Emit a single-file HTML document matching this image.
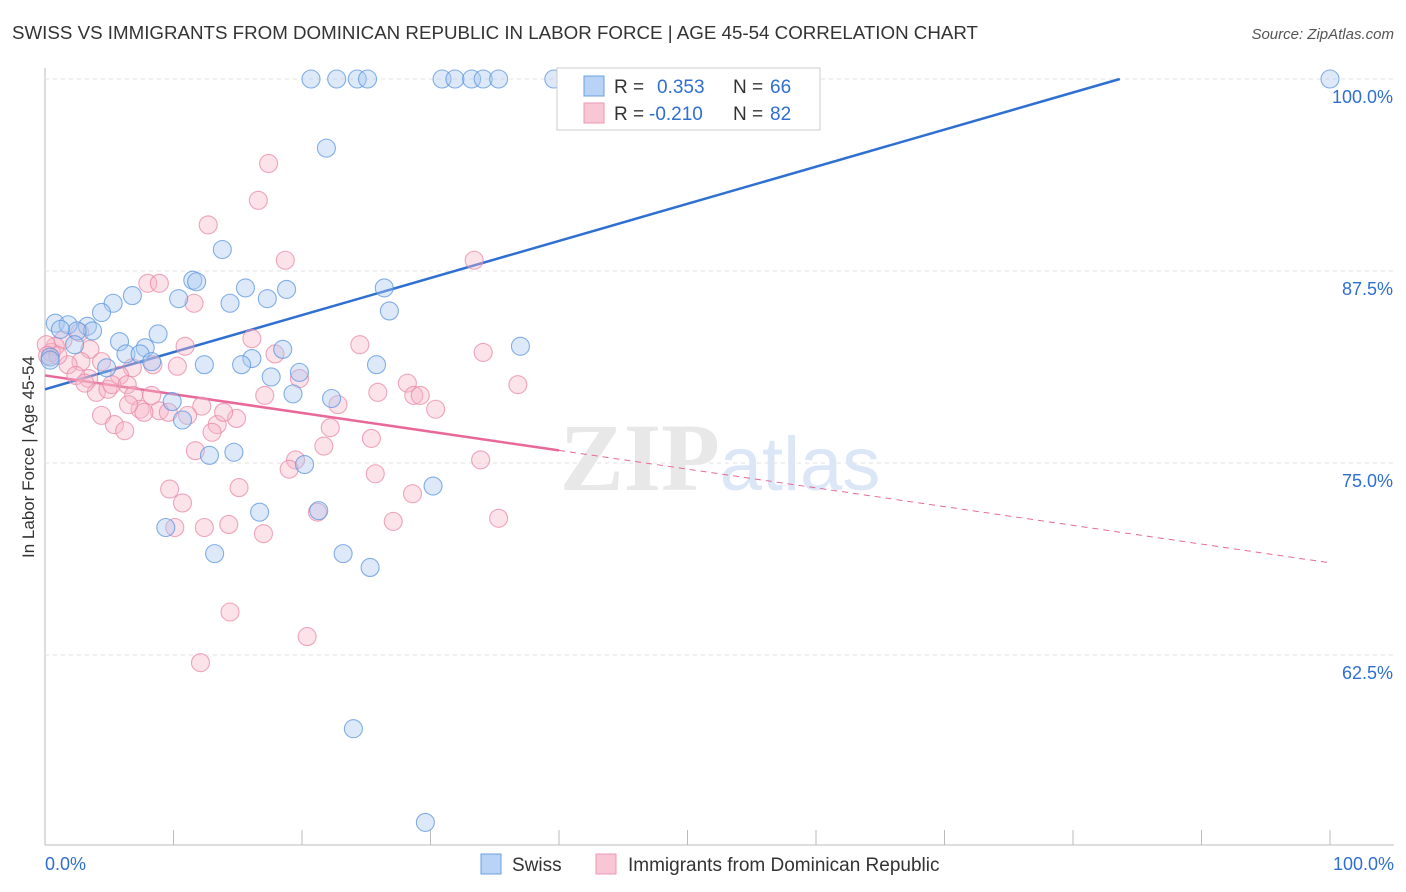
<!DOCTYPE html>
<html><head><meta charset="utf-8"><style>
body{margin:0;background:#fff;font-family:"Liberation Sans",sans-serif}
svg{display:block}
</style></head><body>
<svg id="chart" width="1406" height="892" viewBox="0 0 1406 892">
<text x="12" y="39" font-size="18" fill="#333" textLength="966" lengthAdjust="spacingAndGlyphs">SWISS VS IMMIGRANTS FROM DOMINICAN REPUBLIC IN LABOR FORCE | AGE 45-54 CORRELATION CHART</text>
<text x="1394" y="39" font-size="15" fill="#555" text-anchor="end" font-style="italic">Source: ZipAtlas.com</text>
<g id="grid"></g>
<text x="720" y="490" font-size="96" text-anchor="middle" fill="#e8e8e8" font-family="Liberation Serif,serif" font-weight="bold">ZIP<tspan fill="#dbe7f6" font-family="Liberation Sans,sans-serif" font-weight="normal" font-size="76">atlas</tspan></text>
<text transform="translate(34,457) rotate(-90)" font-size="17" fill="#333" text-anchor="middle">In Labor Force | Age 45-54</text>
<g id="lines"></g>
<g id="points"></g>
<g>
<rect x="557" y="68" width="263" height="62" fill="#fff" stroke="#ccc"/>
<rect x="584" y="76" width="20" height="20" fill="#b8d3f5" stroke="#6a9fe0"/>
<text x="614" y="93" font-size="19" fill="#333">R =</text>
<text x="657" y="93" font-size="19" fill="#2e6fd1">0.353</text>
<text x="733" y="93" font-size="19" fill="#333">N =</text>
<text x="770" y="93" font-size="19" fill="#2e6fd1">66</text>
<rect x="584" y="103" width="20" height="20" fill="#f9c6d5" stroke="#e99ab2"/>
<text x="614" y="120" font-size="19" fill="#333">R =</text>
<text x="649" y="120" font-size="19" fill="#2e6fd1">-0.210</text>
<text x="733" y="120" font-size="19" fill="#333">N =</text>
<text x="770" y="120" font-size="19" fill="#2e6fd1">82</text>
</g>
<g>
<rect x="481" y="854" width="20" height="20" fill="#b8d3f5" stroke="#6a9fe0"/>
<text x="512" y="871" font-size="19" fill="#333">Swiss</text>
<rect x="596" y="854" width="20" height="20" fill="#f9c6d5" stroke="#e99ab2"/>
<text x="628" y="871" font-size="19" fill="#333">Immigrants from Dominican Republic</text>
</g>
</svg>
<script>
const yTicks=[100,87.5,75,62.5];
const yTickLabels=["100.0%","87.5%","75.0%","62.5%"];
const xTickVals=[0,10,20,30,40,50,60,70,80,90,100];
const xTickLabels=["0.0%","100.0%"];
const swissX=[20.7,22.7,24.3,25.1,30.9,31.9,33.2,34.1,35.3,39.6,41.5,100,21.9,13.8,11.5,11.8,15.6,18.8,26.4,6.8,10.4,5.3,14.4,17.3,4.4,26.8,0.8,1.8,3.3,3.7,2.5,8.8,5.8,7.8,2.3,6.3,7.4,37.0,18.5,16.1,0.4,8.3,12.4,15.3,25.8,4.8,19.8,17.6,19.3,22.3,9.9,10.7,12.8,14.7,20.2,30.2,16.7,21.3,9.4,13.2,23.2,25.3,24.0,29.6,0.4,1.2];
const swissY=[100,100,100,100,100,100,100,100,100,100,100,100,95.5,88.9,86.9,86.8,86.4,86.3,86.4,85.9,85.7,85.4,85.4,85.7,84.8,84.9,84.1,84.0,83.9,83.6,83.6,83.4,82.9,82.5,82.7,82.1,82.1,82.6,82.4,81.8,81.9,81.6,81.4,81.4,81.4,81.2,80.9,80.6,79.5,79.2,79.0,77.8,75.5,75.7,74.9,73.5,71.8,71.9,70.8,69.1,69.1,68.2,57.7,51.6,81.7,83.7];
const domX=[17.4,16.6,12.7,18.7,33.4,8.0,8.9,11.6,16.1,24.5,1.4,2.7,0.8,0.5,3.5,10.9,4.4,2.8,1.8,6.8,8.4,10.3,17.9,34.1,5.8,3.4,4.0,4.9,5.2,6.4,6.9,28.2,28.7,29.2,25.9,36.8,22.8,30.4,4.4,7.4,8.9,9.6,7.7,12.2,13.4,14.9,5.4,6.2,13.0,11.1,11.7,21.7,25.4,19.5,19.0,33.9,25.7,9.7,15.1,28.6,10.7,21.2,10.1,12.4,14.3,27.1,35.3,17.0,14.4,20.4,12.1,0.1,0.2,1.0,2.4,3.1,8.3,17.1,19.8,13.9,6.5,22.2];
const domY=[94.5,92.1,90.5,88.2,88.2,86.7,86.7,85.4,83.1,82.7,83.0,83.5,82.6,82.2,82.4,82.6,81.6,81.6,81.4,81.2,81.4,81.3,82.1,82.2,80.7,80.5,79.6,79.8,80.1,80.1,79.4,80.2,79.4,79.4,79.6,80.1,78.8,78.5,78.1,78.5,78.4,78.3,78.3,78.7,77.5,77.9,77.5,77.1,77.0,78.1,75.8,76.1,76.6,75.2,74.6,75.2,74.3,73.3,73.4,73.0,72.4,71.8,70.8,70.8,71.0,71.2,71.4,70.4,65.3,63.7,62.0,82.7,82.0,82.0,80.7,80.2,79.4,79.4,80.5,78.3,78.8,77.3];
const swissTrend=[79.8,0.2415];
const domTrend=[80.7,-0.122];
const NS="http://www.w3.org/2000/svg";
const sx=v=>45+v*12.85, sy=v=>79+(100-v)*15.36;
function mk(t,a,p){const e=document.createElementNS(NS,t);for(const k in a)e.setAttribute(k,a[k]);p.appendChild(e);return e;}
const grid=document.getElementById('grid');
const ax=mk('line',{x1:45,y1:68,x2:45,y2:845,stroke:'#bbb'},grid);


const bx=mk('line',{x1:45,y1:845,x2:1394,y2:845,stroke:'#bbb'},grid);


yTicks.forEach((v,i)=>{
 const g=mk('line',{x1:45,y1:sy(v),x2:1394,y2:sy(v),stroke:'#e2e2e2','stroke-dasharray':'4,4'},grid);
 
 
 const t=mk('text',{x:1393,y:sy(v)+24,'font-size':18,fill:'#2e6fd1','text-anchor':'end'},grid);
 t.textContent=yTickLabels[i];
 
 
});
xTickVals.forEach(v=>{
 const l=mk('line',{x1:sx(v),y1:830,x2:sx(v),y2:845,stroke:'#bbb'},grid);
 
 
});
[[0,'start',45],[100,'end',1394]].forEach((d,i)=>{
 const t=mk('text',{x:d[2],y:870,'font-size':18,fill:'#2e6fd1','text-anchor':d[1]},grid);
 t.textContent=xTickLabels[i];
 
 
});
const pts=document.getElementById('points');
function dots(X,Y,fill,stroke,name){X.forEach((x,i)=>{
 const c=mk('circle',{cx:sx(x),cy:sy(Y[i]),r:9,fill:fill,'fill-opacity':0.4,stroke:stroke,'stroke-opacity':0.75,'stroke-width':1.1},pts);
 
 
});}
dots(domX,domY,'#f7b6c9','#e88aa8','dominican-point');
dots(swissX,swissY,'#a9c9f1','#5a95e0','swiss-point');
const lines=document.getElementById('lines');
const xEnd=(100-swissTrend[0])/swissTrend[1];
const bl=mk('line',{x1:sx(0),y1:sy(swissTrend[0]),x2:sx(xEnd),y2:sy(100),stroke:'#2e6fd1','stroke-width':2.5},lines);


const pl=mk('line',{x1:sx(0),y1:sy(domTrend[0]),x2:sx(40),y2:sy(domTrend[0]+40*domTrend[1]),stroke:'#e8689a','stroke-width':2.5},lines);


const pd=mk('line',{x1:sx(40),y1:sy(domTrend[0]+40*domTrend[1]),x2:sx(100),y2:sy(domTrend[0]+100*domTrend[1]),stroke:'#e8689a','stroke-width':1,'stroke-dasharray':'6,5'},lines);


</script>
</body></html>
